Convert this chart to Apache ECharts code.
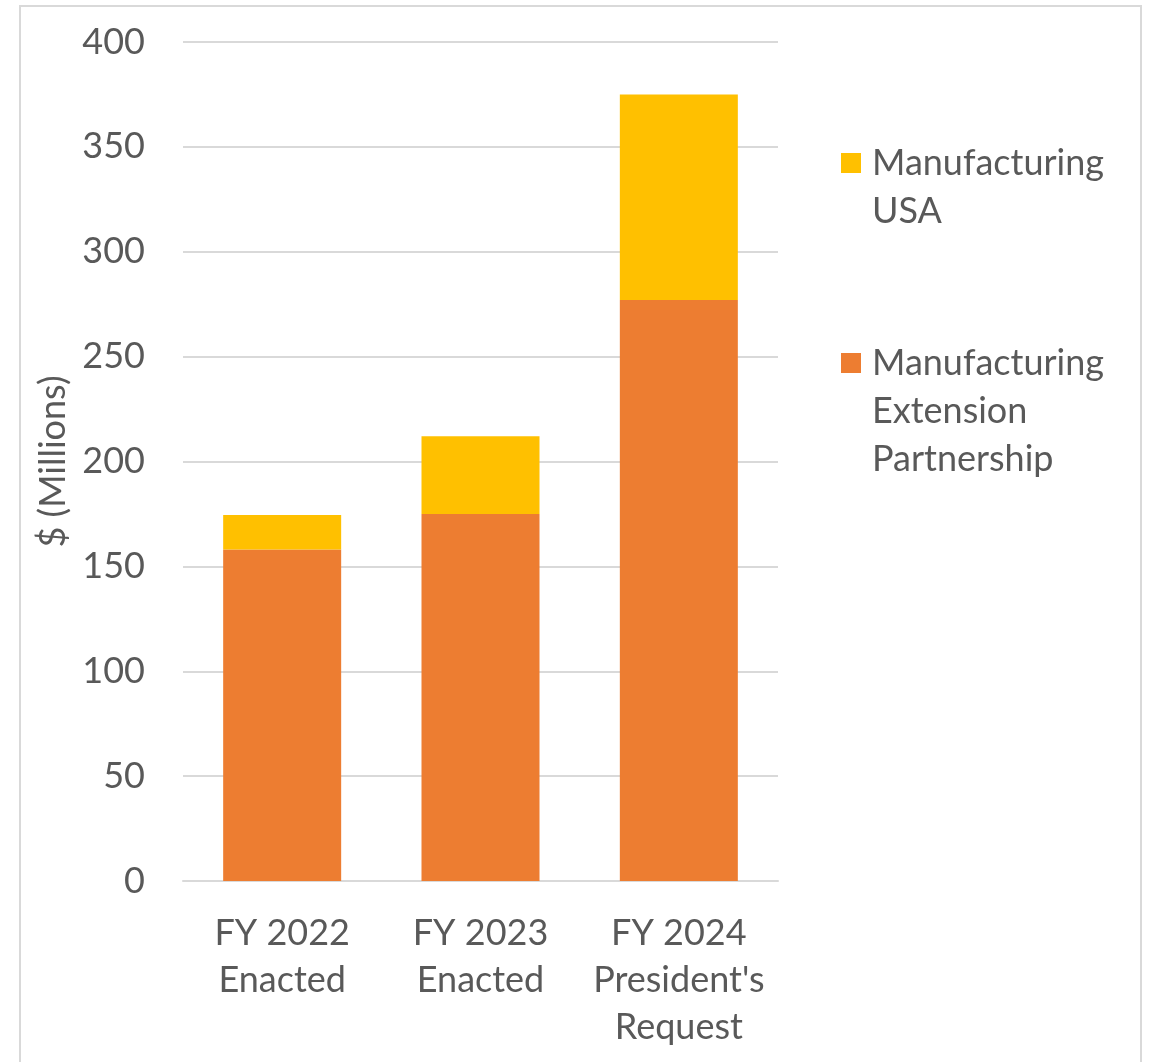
<!DOCTYPE html>
<html>
<head>
<meta charset="utf-8">
<script src="https://cdn.jsdelivr.net/npm/echarts@6/dist/echarts.min.js"></script>
<style>
  html, body { margin: 0; padding: 0; background: #fff; }
  #frame { position: absolute; left: 19px; top: 5px; width: 1123px; height: 1100px; border: 2px solid #d9d9d9; box-sizing: border-box; }
  #chart { position: absolute; left: 0; top: 0; width: 1151px; height: 1062px; }
</style>
</head>
<body>
<div id="frame"></div>
<div id="chart"></div>
<script>
const categories = ['FY 2022\nEnacted', 'FY 2023\nEnacted', "FY 2024\nPresident's\nRequest"];
const mepValues = [158, 175, 277];
const usaValues = [16.5, 37, 98];
const seriesNames = ['Manufacturing\nExtension\nPartnership', 'Manufacturing\nUSA'];

window.addEventListener('load', function () {
    let chart = echarts.init(document.getElementById('chart'));
    const font = 'Lato, "Noto Sans", sans-serif';
    const textColor = '#595959';

    let option = {
        animation: false,
        textStyle: { fontFamily: font },
        grid: { left: 183, right: 373, top: 42, bottom: 181 },
        legend: {
            orient: 'vertical',
            left: 841,
            top: 91,
            padding: 0,
            itemWidth: 32,
            itemHeight: 20,
            itemGap: 8,
            // square kept at its aspect inside a wider box, leaves room before the text
            icon: 'path://M0,0L20,0L20,20L0,20Z',
            symbolKeepAspect: true,
            selectedMode: false,
            textStyle: { color: textColor, fontSize: 36, lineHeight: 48, fontFamily: font },
            // leading blank lines keep the marker level with the first line of text
            formatter: function (name) {
                let lines = name.split('\n').length;
                return '\n'.repeat(lines - 1) + name;
            },
            data: [seriesNames[1], seriesNames[0]]
        },
        xAxis: {
            type: 'category',
            data: categories,
            axisLine: { lineStyle: { color: '#d9d9d9', width: 2 } },
            axisTick: { show: false },
            axisLabel: { interval: 0, color: textColor, fontSize: 36, lineHeight: 47, margin: 29, fontFamily: font }
        },
        yAxis: {
            type: 'value',
            min: 0,
            max: 400,
            interval: 50,
            name: '$ (Millions)',
            nameLocation: 'middle',
            nameRotate: 90,
            nameGap: 104,
            nameTextStyle: { color: textColor, fontSize: 36, fontFamily: font },
            axisLine: { show: false },
            axisTick: { show: false },
            axisLabel: { color: textColor, fontSize: 36, margin: 38, fontFamily: font },
            splitLine: { lineStyle: { color: '#d9d9d9', width: 2 } }
        },
        series: [
            {
                name: seriesNames[0],
                type: 'bar',
                stack: 'total',
                data: mepValues,
                barWidth: 118,
                itemStyle: { color: '#ED7D31' }
            },
            {
                name: seriesNames[1],
                type: 'bar',
                stack: 'total',
                data: usaValues,
                barWidth: 118,
                itemStyle: { color: '#FFC000' }
            }
        ]
    };

    chart.setOption(option);
});
</script>
</body>
</html>
